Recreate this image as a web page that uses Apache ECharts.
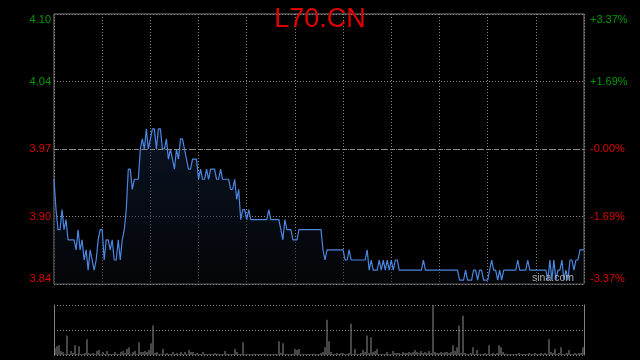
<!DOCTYPE html>
<html><head><meta charset="utf-8">
<script src="https://cdn.jsdelivr.net/npm/echarts@6/dist/echarts.min.js"></script>
<style>html,body{margin:0;padding:0;background:#000}#c{width:640px;height:360px}</style>
</head><body><div id="c"></div>
<script>
const titleText = 'L70.CN';
const prevClose = 3.97;
const pctRange = 3.37;
const priceTickLabels = ['3.84', '3.90', '3.97', '4.04', '4.10'];
const pctTickLabels = ['-3.37%', '-1.69%', '-0.00%', '+1.69%', '+3.37%'];
const prices = [
3.94,3.91,3.89,3.89,3.91,3.89,3.90,3.88,3.88,3.88,
3.88,3.87,3.89,3.87,3.88,3.86,3.87,3.85,3.87,3.86,
3.85,3.86,3.88,3.89,3.89,3.86,3.88,3.88,3.87,3.88,
3.86,3.86,3.88,3.86,3.88,3.89,3.91,3.95,3.95,3.93,
3.94,3.94,3.94,3.97,3.98,3.97,3.99,3.97,3.98,3.99,
3.99,3.97,3.99,3.99,3.97,3.97,3.98,3.96,3.97,3.96,
3.95,3.97,3.96,3.98,3.98,3.97,3.96,3.95,3.95,3.96,
3.96,3.96,3.94,3.95,3.94,3.94,3.95,3.94,3.95,3.95,
3.95,3.94,3.94,3.95,3.94,3.94,3.94,3.94,3.93,3.93,
3.94,3.92,3.93,3.90,3.91,3.91,3.90,3.91,3.90,3.90,
3.90,3.90,3.90,3.90,3.90,3.90,3.90,3.91,3.90,3.90,
3.90,3.90,3.90,3.89,3.88,3.90,3.89,3.89,3.89,3.88,
3.88,3.88,3.89,3.89,3.89,3.89,3.89,3.89,3.89,3.89,
3.89,3.89,3.89,3.89,3.87,3.86,3.87,3.87,3.87,3.87,
3.87,3.87,3.87,3.87,3.87,3.86,3.86,3.87,3.86,3.86,
3.86,3.86,3.86,3.86,3.86,3.86,3.87,3.85,3.86,3.85,
3.85,3.85,3.86,3.85,3.86,3.85,3.86,3.85,3.86,3.85,
3.86,3.86,3.85,3.85,3.85,3.85,3.85,3.85,3.85,3.85,
3.85,3.85,3.85,3.85,3.86,3.85,3.85,3.85,3.85,3.85,
3.85,3.85,3.85,3.85,3.85,3.85,3.85,3.85,3.85,3.85,
3.85,3.85,3.84,3.84,3.84,3.85,3.84,3.84,3.84,3.85,
3.85,3.84,3.85,3.85,3.84,3.84,3.84,3.85,3.86,3.85,
3.85,3.84,3.85,3.84,3.85,3.85,3.85,3.85,3.85,3.85,
3.85,3.86,3.85,3.85,3.85,3.85,3.86,3.85,3.85,3.85,
3.85,3.85,3.85,3.85,3.85,3.85,3.84,3.86,3.84,3.86,
3.84,3.85,3.85,3.86,3.84,3.85,3.84,3.86,3.86,3.85,
3.86,3.86,3.87,3.87,3.87
];
const volumes = [
7,9,10,4,3,1,20,1,4,2,
10,1,9,1,1,2,16,2,1,2,
1,4,5,1,3,1,4,1,1,1,
3,1,1,3,4,2,6,8,1,3,
4,1,13,3,3,4,3,5,12,30,
2,3,1,1,6,1,2,1,1,3,
1,2,1,3,1,3,1,5,3,3,
1,2,1,1,3,1,1,1,1,1,
2,1,1,1,1,4,1,1,1,1,
6,3,1,1,13,1,1,1,1,1,
1,1,1,1,1,1,1,1,1,1,
1,1,14,2,12,1,1,1,1,1,
6,5,6,1,1,1,1,1,1,1,
1,1,1,2,3,8,36,14,3,1,
1,2,1,2,2,1,1,2,32,1,
6,1,1,2,5,3,20,2,18,3,
4,6,1,1,1,1,3,1,1,4,
2,2,2,1,3,2,2,3,2,3,
5,3,2,4,2,3,2,4,2,51,
3,2,2,3,2,3,3,2,3,10,
4,8,30,2,40,2,1,1,2,8,
1,5,1,1,1,2,1,10,1,2,
1,2,10,8,3,1,1,1,1,1,
1,1,2,1,1,1,1,2,1,1,
2,1,1,2,1,2,1,16,3,2,
6,1,2,8,1,1,2,5,1,1,
2,1,2,2,8
];

const FONT = '"Liberation Sans", Arial, sans-serif';
const GREEN = '#009a00', RED = '#dd0000', GRID = '#8a8a8a';
const cats = prices.map((_, i) => i);
const lo = prevClose * (1 - pctRange / 100);
const hi = prevClose * (1 + pctRange / 100);
const volMax = Math.max.apply(null, volumes);
const chart = echarts.init(document.getElementById('c'));
chart.setOption({
  backgroundColor: '#000',
  animation: false,
  title: { text: titleText, left: 'center', top: 1,
    textStyle: { color: '#e00000', fontSize: 27, fontWeight: 'normal', fontFamily: FONT } },
  grid: [
    { left: 54, right: 56, top: 14, height: 270, show: true, borderColor: '#808080', borderWidth: 1 },
    { left: 54, right: 56, top: 305, height: 50 }
  ],
  xAxis: [
    { type: 'category', gridIndex: 0, data: cats, boundaryGap: false, show: false },
    { type: 'value', gridIndex: 0, min: 0, max: 11, interval: 1,
      axisLine: { show: false }, axisTick: { show: false }, axisLabel: { show: false },
      splitLine: { show: true, lineStyle: { color: GRID, type: [1, 2], width: 1 } } },
    { type: 'category', gridIndex: 1, data: cats, boundaryGap: true, show: false }
  ],
  yAxis: [
    { type: 'value', gridIndex: 0, min: lo, max: hi, show: false },
    { type: 'value', gridIndex: 0, min: 0, max: 4, interval: 1, position: 'left',
      axisLine: { show: false }, axisTick: { show: false },
      axisLabel: { margin: 3, fontSize: 11, fontFamily: FONT,
        formatter: v => priceTickLabels[v], color: v => (v > 2 ? GREEN : RED),
        verticalAlignMinLabel: 'bottom', verticalAlignMaxLabel: 'top' },
      splitLine: { show: true, lineStyle: { color: GRID, type: [1, 2], width: 1 } } },
    { type: 'value', gridIndex: 0, min: 0, max: 4, interval: 1, position: 'right',
      axisLine: { show: false }, axisTick: { show: false },
      axisLabel: { margin: 6, fontSize: 11, fontFamily: FONT,
        formatter: v => pctTickLabels[v], color: v => (v > 2 ? GREEN : RED),
        verticalAlignMinLabel: 'bottom', verticalAlignMaxLabel: 'top' },
      splitLine: { show: false } },
    { type: 'value', gridIndex: 1, min: 0, max: volMax, interval: volMax / 2,
      axisLine: { show: true, lineStyle: { color: '#808080' } }, axisTick: { show: false },
      axisLabel: { show: false },
      splitLine: { show: true, lineStyle: { color: GRID, type: [1, 2], width: 1 } } },
    { type: 'value', gridIndex: 1, position: 'right', min: 0, max: volMax,
      axisLine: { show: true, lineStyle: { color: '#808080' } }, axisTick: { show: false },
      axisLabel: { show: false }, splitLine: { show: false } }
  ],
  series: [
    { type: 'line', xAxisIndex: 0, yAxisIndex: 0, data: prices, symbol: 'none',
      lineStyle: { color: '#4d86e0', width: 1.2 },
      areaStyle: { origin: 'start', color: new echarts.graphic.LinearGradient(0, 0, 0, 1, [
        { offset: 0, color: 'rgba(22,38,66,0.75)' }, { offset: 1, color: 'rgba(8,12,20,0.6)' }]) },
      markLine: { silent: true, symbol: 'none', label: { show: false },
        lineStyle: { color: GRID, type: [5, 3], width: 1 }, data: [{ yAxis: prevClose }] } },
    { type: 'bar', xAxisIndex: 2, yAxisIndex: 3, data: volumes, barWidth: 1,
      itemStyle: { color: '#8c8c8c' } }
  ],
  graphic: [{ type: 'text', left: 532, top: 273, z: 100,
    style: { text: 'sina.com', fill: '#a8a8a8', font: '10.5px "Liberation Sans", Arial, sans-serif' } }]
});
</script></body></html>
